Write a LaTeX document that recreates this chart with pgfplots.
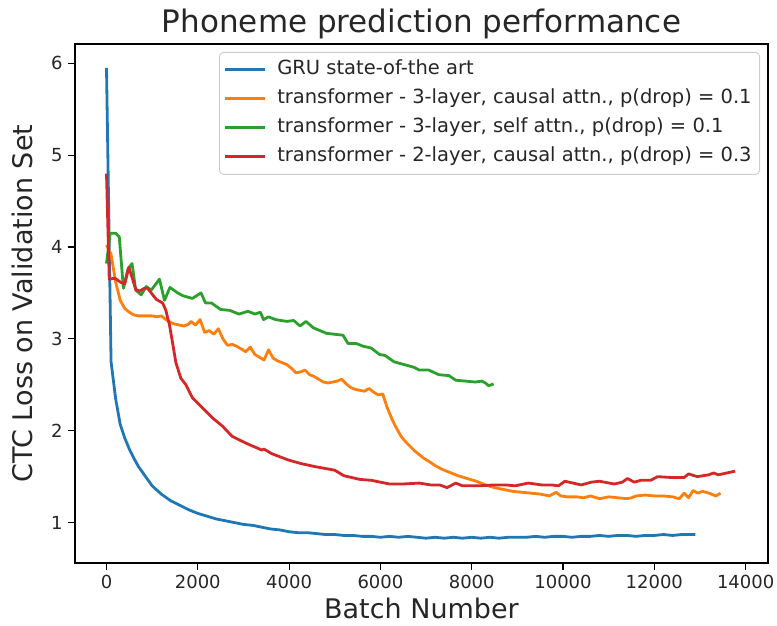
\documentclass[border=0pt]{standalone}
\usepackage{fontspec}
\setmainfont{DejaVu Sans}
\usepackage{pgfplots}
\pgfplotsset{compat=1.18}
\definecolor{tabblue}{HTML}{1F77B4}
\definecolor{taborange}{HTML}{FF7F0E}
\definecolor{tabgreen}{HTML}{2CA02C}
\definecolor{tabred}{HTML}{D62728}
\begin{document}
\begin{tikzpicture}
\path[use as bounding box] (-75pt,-63pt) rectangle (702pt,563pt);
\begin{axis}[
  at={(0,0)}, anchor=south west,
  scale only axis, width=693pt, height=519pt,
  xmin=-690, xmax=14490, ymin=0.56, ymax=6.21,
  xtick={0,2000,4000,6000,8000,10000,12000,14000},
  ytick={1,2,3,4,5,6},
  scaled x ticks=false,
  /pgf/number format/assume math mode=true,
  /pgf/number format/1000 sep={},
  tick align=outside, tick pos=left,
  major tick length=7pt,
  every tick/.style={black, line width=1.1pt},
  axis line style={line width=1.1pt, black},
  tick label style={font=\fontsize{18}{20}\selectfont, color=black!85},
  xticklabel style={yshift=-2pt},
  yticklabel style={xshift=-2pt},
  label style={font=\fontsize{27}{30}\selectfont, color=black!85},
  xlabel={Batch Number},
  ylabel={CTC Loss on Validation Set},
  xlabel style={at={(axis description cs:0.5,-0.088)}, anchor=center},
  ylabel style={at={(axis description cs:-0.0765,0.5)}, anchor=center},
  title={Phoneme prediction performance},
  title style={font=\fontsize{31}{34}\selectfont, at={(axis description cs:0.5,1.028)}, anchor=center, color=black!85},
  legend style={at={(0.9885,0.9846)}, anchor=north east, draw=black!20, line width=0.8pt, rounded corners=4pt,
    font=\fontsize{19.5}{22}\selectfont, fill=white, fill opacity=0.8, text opacity=1,
    inner xsep=4pt, inner ysep=3pt,
    nodes={text height=15.5pt, text depth=5.5pt, inner ysep=4pt, inner xsep=4pt, text=black!85}},
  legend cell align=left,
  legend image code/.code={\draw[#1, line width=2.8pt] (0pt,0pt) -- (40pt,0pt);},
  /tikz/every odd column/.append style={column sep=7pt},
  every axis plot/.append style={line width=2.8pt, line join=round},
]
\addplot[tabblue] coordinates {
(0,5.95) (100,2.75) (200,2.35) (300,2.07) (400,1.92) (500,1.80) (600,1.70) (700,1.61) (800,1.54) (900,1.47)
(1000,1.40) (1200,1.31) (1400,1.24) (1600,1.19) (1800,1.14) (2000,1.10) (2200,1.07) (2400,1.04) (2600,1.02) (2800,1.00)
(3000,0.98) (3200,0.97) (3400,0.95) (3600,0.93) (3800,0.92) (4000,0.90) (4200,0.89) (4400,0.89) (4600,0.88) (4800,0.87)
(5000,0.87) (5200,0.86) (5400,0.86) (5600,0.85) (5800,0.85) (6000,0.84) (6200,0.85) (6400,0.84) (6600,0.85) (6800,0.84)
(7000,0.83) (7200,0.84) (7400,0.83) (7600,0.84) (7800,0.83) (8000,0.84) (8200,0.83) (8400,0.84) (8600,0.83) (8800,0.84)
(9000,0.84) (9200,0.84) (9400,0.85) (9600,0.84) (9800,0.85) (10000,0.85) (10200,0.84) (10400,0.85) (10600,0.85) (10800,0.86)
(11000,0.85) (11200,0.86) (11400,0.86) (11600,0.85) (11800,0.86) (12000,0.86) (12200,0.87) (12400,0.86) (12600,0.87) (12800,0.87) (12900,0.87)
};
\addlegendentry{GRU state-of-the art}
\addplot[taborange] coordinates {
(0,4.02) (100,3.92) (200,3.62) (300,3.42) (400,3.33) (500,3.29) (600,3.26) (700,3.25) (800,3.25) (900,3.25)
(1000,3.25) (1100,3.24) (1200,3.25) (1300,3.21) (1400,3.18) (1500,3.16) (1600,3.15) (1700,3.14) (1800,3.16) (1850,3.19)
(1950,3.15) (2050,3.21) (2150,3.07) (2250,3.09) (2350,3.05) (2450,3.11) (2550,3.00) (2650,2.93) (2750,2.94) (2850,2.92)
(2950,2.89) (3050,2.86) (3150,2.91) (3250,2.83) (3350,2.80) (3450,2.77) (3550,2.88) (3650,2.79) (3750,2.76) (3850,2.74)
(3950,2.72) (4050,2.68) (4150,2.63) (4250,2.64) (4350,2.66) (4450,2.61) (4550,2.59) (4650,2.56) (4750,2.53) (4850,2.52)
(4950,2.53) (5050,2.54) (5150,2.56) (5250,2.51) (5350,2.47) (5450,2.45) (5550,2.44) (5650,2.43) (5750,2.46) (5850,2.42)
(5950,2.39) (6050,2.40) (6150,2.25) (6250,2.13) (6350,2.03) (6450,1.94) (6550,1.88) (6650,1.83) (6750,1.78) (6850,1.74)
(6950,1.70) (7050,1.67) (7200,1.62) (7350,1.58) (7500,1.55) (7700,1.51) (7900,1.48) (8100,1.45) (8300,1.41) (8500,1.38)
(8700,1.36) (8900,1.34) (9100,1.33) (9300,1.32) (9500,1.31) (9700,1.29) (9850,1.33) (9950,1.29) (10100,1.28) (10300,1.28)
(10450,1.27) (10600,1.29) (10800,1.26) (11000,1.28) (11200,1.27) (11400,1.26) (11500,1.27) (11600,1.29) (11800,1.30) (12000,1.29)
(12200,1.29) (12400,1.28) (12550,1.26) (12650,1.32) (12750,1.27) (12850,1.35) (12950,1.32) (13050,1.34) (13200,1.32) (13350,1.29) (13450,1.32)
};
\addlegendentry{transformer - 3-layer, causal attn., p(drop) = 0.1}
\addplot[tabgreen] coordinates {
(0,3.82) (80,4.15) (200,4.15) (280,4.11) (370,3.55) (470,3.76) (560,3.82) (640,3.53) (760,3.48) (870,3.57)
(980,3.53) (1160,3.65) (1270,3.42) (1390,3.56) (1560,3.50) (1670,3.47) (1880,3.44) (2070,3.50) (2170,3.39) (2300,3.39)
(2500,3.32) (2700,3.31) (2900,3.27) (3100,3.30) (3250,3.27) (3370,3.29) (3440,3.21) (3550,3.24) (3700,3.21) (3950,3.19)
(4100,3.20) (4240,3.14) (4370,3.19) (4530,3.12) (4820,3.06) (5180,3.04) (5290,2.95) (5470,2.95) (5620,2.92) (5800,2.90)
(5980,2.83) (6100,2.82) (6300,2.75) (6520,2.72) (6740,2.69) (6850,2.66) (7060,2.66) (7280,2.61) (7500,2.60) (7650,2.55)
(7860,2.54) (8080,2.53) (8220,2.54) (8300,2.52) (8370,2.49) (8480,2.51)
};
\addlegendentry{transformer - 3-layer, self attn., p(drop) = 0.1}
\addplot[tabred] coordinates {
(0,4.80) (60,3.65) (180,3.66) (330,3.61) (400,3.60) (490,3.78) (540,3.70) (640,3.54) (720,3.52) (830,3.55)
(900,3.55) (980,3.50) (1090,3.43) (1230,3.39) (1300,3.31) (1380,3.15) (1450,2.95) (1520,2.74) (1630,2.57) (1740,2.50)
(1880,2.36) (2100,2.25) (2320,2.14) (2540,2.05) (2750,1.94) (2950,1.89) (3120,1.85) (3400,1.79) (3450,1.80) (3620,1.75)
(3990,1.68) (4280,1.64) (4560,1.61) (5000,1.57) (5200,1.51) (5550,1.47) (5800,1.46) (6200,1.42) (6500,1.42) (6850,1.43)
(7100,1.41) (7300,1.41) (7460,1.38) (7650,1.43) (7800,1.40) (8150,1.40) (8500,1.41) (8750,1.41) (8950,1.40) (9240,1.43)
(9530,1.41) (9750,1.41) (9900,1.40) (10040,1.45) (10400,1.41) (10620,1.44) (10800,1.45) (11120,1.42) (11300,1.44) (11410,1.48)
(11560,1.44) (11700,1.46) (11920,1.46) (12070,1.50) (12400,1.49) (12650,1.49) (12750,1.53) (12940,1.50) (13190,1.52) (13300,1.54)
(13400,1.52) (13590,1.54) (13770,1.56)
};
\addlegendentry{transformer - 2-layer, causal attn., p(drop) = 0.3}
\end{axis}
\end{tikzpicture}
\end{document}
